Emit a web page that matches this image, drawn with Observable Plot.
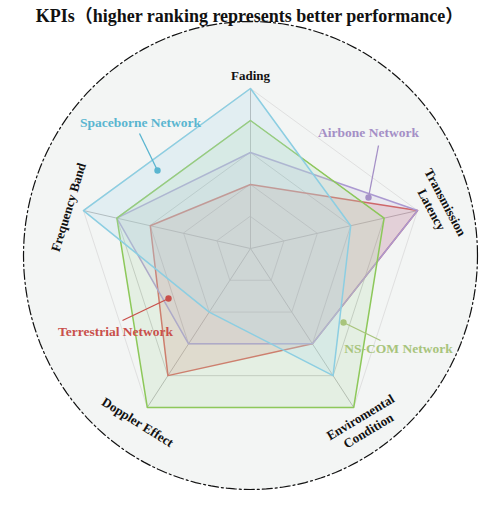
<!DOCTYPE html>
<html><head><meta charset="utf-8">
<script src="https://cdn.jsdelivr.net/npm/d3@7"></script>
<script src="https://cdn.jsdelivr.net/npm/@observablehq/plot@0.6"></script>
<style>
body{margin:0;background:#fff;}
#wrap{position:relative;width:499px;height:506px;}
#title{position:absolute;top:1px;left:0;width:499px;text-align:center;font:bold 18px 'Liberation Serif','Noto Sans CJK SC','Times New Roman',serif;color:#111;white-space:nowrap;}
</style></head><body>
<div id="wrap"><div id="chart"></div><div id="title">KPIs（higher ranking represents better performance）</div></div>
<script>
// ---- data ----
const axes = ["Fading", "Transmission\nLatency", "Enviromental\nCondition", "Doppler Effect", "Frequency Band"];
const seriesNames = ["Terrestrial Network", "Airbone Network", "NS-COM Network", "Spaceborne Network"];
const terrestrial = [2, 5, 3, 4, 3];
const airborne    = [3, 5, 3, 3, 4];
const nscom       = [4, 4, 5, 5, 4];
const spaceborne  = [5, 3, 4, 2, 5];
const levels = [1, 2, 3, 4, 5];
const maxLevel = 5;

// ---- layout ----
const axisAngle  = [90, 12.8, -57, -123, 167.2];     // degrees, counter-clockwise
const axisRadius = [160, 171.3, 189.5, 189.5, 171.3]; // px at max level
const labelOffset = [14, 22, 19, 17, 16];
const labelRotate = [0, 62, -31, 32, -73];
const serif = "'Liberation Serif','Times New Roman',serif";

const styles = [
  {stroke: "#d45f58", fill: "#d76e6e", op: 0.2,  label: "#c9504b"},
  {stroke: "#ab99d1", fill: "#af9bd7", op: 0.15, label: "#a48fc6"},
  {stroke: "#8dc85a", fill: "#b9e1af", op: 0.25, label: "#a8c47c"},
  {stroke: "#8ccee2", fill: "#afdaec", op: 0.25, label: "#5ab5d0"}
];
const notes = [
  {tx: -135, ty: -83,   lx: -128, ly: -72, dx: -82, dy: -50},
  {tx: 118,  ty: 115.5, lx: 128,  ly: 103, dx: 118, dy: 51},
  {tx: 148,  ty: -100.5,lx: 130,  ly: -92, dx: 93,  dy: -74},
  {tx: -110, ty: 126,   lx: -111, ly: 115, dx: -93, dy: 78}
];

function pt(i, v) {
  const a = axisAngle[i] * Math.PI / 180, r = axisRadius[i] * v / maxLevel;
  return {x: r * Math.cos(a), y: r * Math.sin(a)};
}

const values = [terrestrial, airborne, nscom, spaceborne];
const polys = values.map((vals, s) => vals.map((v, i) => ({series: seriesNames[s], ...pt(i, v)})));
const rings = levels.flatMap(l => axes.map((a, i) => ({level: l, ...pt(i, l)})));
const spokes = axes.map((a, i) => ({axis: a, ...pt(i, maxLevel)}));
const axisLabels = axes.map((a, i) => {
  const ang = axisAngle[i] * Math.PI / 180, r = axisRadius[i] + labelOffset[i];
  return {text: a, x: r * Math.cos(ang), y: r * Math.sin(ang), rotate: labelRotate[i]};
});
const ellipse = d3.range(0, 360, 2).map(t => ({x: 227 * Math.cos(t * Math.PI / 180), y: -7 + 234 * Math.sin(t * Math.PI / 180)}));
const noteData = notes.map((n, s) => ({...n, name: seriesNames[s], color: styles[s].label}));

const marks = [
  Plot.line(ellipse, {x: "x", y: "y", curve: "linear-closed", fill: "#f3f5f4", stroke: "#111", strokeWidth: 1.2, strokeDasharray: "10,3,2,3"}),
  Plot.line(rings.filter(d => d.level < maxLevel), {x: "x", y: "y", z: "level", curve: "linear-closed", stroke: "#c8c8c8", strokeWidth: 1}),
  Plot.line(rings.filter(d => d.level === maxLevel), {x: "x", y: "y", curve: "linear-closed", stroke: "#e0e0e0", strokeWidth: 1}),
  Plot.link(spokes, {x1: () => 0, y1: () => 0, x2: "x", y2: "y", stroke: "#b3b3b3", strokeWidth: 1})
];
polys.forEach((p, s) => {
  marks.push(Plot.line(p, {x: "x", y: "y", curve: "linear-closed", fill: styles[s].fill, fillOpacity: styles[s].op, stroke: styles[s].stroke, strokeWidth: 1.5}));
});
marks.push(
  Plot.link(noteData, {x1: "lx", y1: "ly", x2: "dx", y2: "dy", stroke: "color", strokeWidth: 1.3}),
  Plot.dot(noteData, {x: "dx", y: "dy", r: 3.2, fill: "color"}),
  Plot.text(noteData, {x: "tx", y: "ty", text: "name", fill: "color", fontSize: 13.5, fontWeight: "bold", fontFamily: serif}),
  Plot.text(axisLabels, {x: "x", y: "y", text: "text", rotate: "rotate", fill: "#111", fontSize: 13, fontWeight: "bold", fontFamily: serif, lineHeight: 1.2})
);

const chart = Plot.plot({
  width: 499, height: 506, margin: 0,
  x: {domain: [-250, 249], range: [0, 499], axis: null},
  y: {domain: [248, -258], range: [0, 506], axis: null},
  color: {type: "identity"},
  style: {background: "transparent"},
  marks
});
document.getElementById("chart").appendChild(chart);
</script>
</body></html>
